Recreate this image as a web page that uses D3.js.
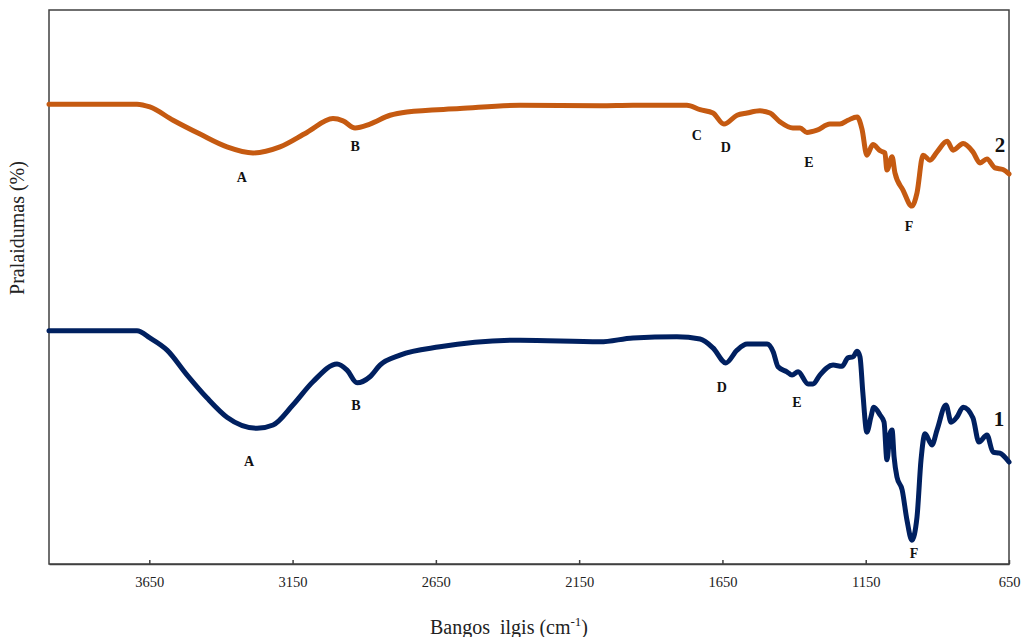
<!DOCTYPE html>
<html>
<head>
<meta charset="utf-8">
<script src="https://cdn.jsdelivr.net/npm/d3@7"></script>
<style>
  html, body { margin: 0; padding: 0; background: #fff; }
  svg { display: block; }
  svg text { font-family: "Liberation Serif", "DejaVu Serif", serif; }
</style>
</head>
<body>
<svg id="chart" width="1025" height="637"></svg>
<script>
// ---- Data ----
const xTicks = [3650, 3150, 2650, 2150, 1650, 1150, 650];

// Series 2 (orange): wavenumber, transmittance
const wave2 = [4000, 3850, 3693, 3648, 3567, 3473, 3379, 3288, 3194, 3100, 3009, 2974, 2932, 2880, 2810, 2751, 2566, 2356, 2077, 1962, 1774, 1728, 1683, 1645, 1599, 1564, 1519, 1484, 1449, 1404, 1379, 1355, 1320, 1275, 1240, 1212, 1180, 1163, 1146, 1125, 1100, 1083, 1076, 1058, 1048, 1020, 989, 971, 950, 926, 901, 866, 845, 810, 776, 751, 727, 699, 671, 650];
const trans2 = [83.0, 83.0, 83.0, 82.5, 80.1, 77.6, 75.3, 74.2, 75.3, 77.9, 80.4, 80.0, 78.7, 79.4, 81.0, 81.6, 82.2, 82.8, 82.7, 82.8, 82.8, 82.0, 81.4, 79.4, 81.0, 81.4, 81.8, 81.4, 79.8, 78.7, 78.7, 77.9, 78.3, 79.4, 79.4, 80.1, 80.7, 78.5, 73.8, 75.7, 74.6, 74.2, 71.1, 73.5, 70.6, 67.5, 64.6, 67.0, 73.8, 72.9, 74.4, 76.3, 74.7, 75.9, 74.4, 72.4, 73.1, 71.5, 71.2, 70.4];

// Series 1 (navy)
const wave1 = [4000, 3693, 3648, 3588, 3518, 3449, 3379, 3274, 3218, 3149, 3079, 2995, 2960, 2925, 2880, 2845, 2775, 2636, 2356, 2077, 1962, 1809, 1728, 1683, 1638, 1599, 1564, 1494, 1473, 1456, 1425, 1407, 1386, 1351, 1334, 1310, 1264, 1233, 1212, 1194, 1180, 1170, 1160, 1146, 1132, 1122, 1100, 1086, 1076, 1065, 1058, 1051, 1041, 1023, 1006, 989, 971, 957, 943, 919, 901, 870, 852, 832, 810, 776, 755, 727, 706, 682, 650];
const trans1 = [42.1, 42.1, 40.8, 38.6, 34.1, 30.0, 26.5, 24.5, 25.1, 28.7, 32.9, 36.1, 35.0, 32.7, 33.8, 35.9, 37.7, 39.2, 40.4, 40.1, 40.8, 41.0, 40.6, 39.0, 36.3, 38.6, 39.7, 39.7, 38.3, 35.6, 34.7, 34.1, 34.7, 32.5, 32.5, 34.1, 35.9, 35.7, 37.2, 37.4, 38.4, 37.4, 30.9, 23.8, 26.5, 28.3, 26.9, 25.6, 18.8, 23.6, 24.2, 19.3, 15.7, 13.4, 7.9, 4.3, 8.5, 18.8, 23.5, 21.5, 24.2, 28.7, 25.6, 26.5, 28.3, 26.4, 22.0, 23.3, 20.2, 20.0, 18.4];

// Peak annotations: text, wavenumber, transmittance (baseline)
const labelText2 = ["A", "B", "C", "D", "E", "F"];
const labelWave2 = [3327, 2932, 1739, 1638, 1348, 999];
const labelVal2  = [68.9, 74.6, 76.5, 74.4, 71.7, 60.1];
const labelText1 = ["A", "B", "D", "E", "F"];
const labelWave1 = [3302, 2929, 1652, 1390, 981];
const labelVal1  = [17.7, 27.8, 31.1, 28.3, 1.1];
const seriesNames = ["1", "2"];
const seriesNameWave = [685, 681];
const seriesNameVal = [24.9, 74.4];

// ---- Layout ----
const svg = d3.select("#chart");
const mLeft = 49, mRight = 1009, mTop = 10, mBottom = 564;
const x = d3.scaleLinear().domain([4000, 650]).range([mLeft, mRight]);
const y = d3.scaleLinear().domain([0, 100]).range([mBottom, mTop]);

// frame
svg.append("rect")
  .attr("x", mLeft).attr("y", mTop)
  .attr("width", mRight - mLeft).attr("height", mBottom - mTop)
  .attr("fill", "none").attr("stroke", "#404040").attr("stroke-width", 1.5);

// x axis with inward ticks
const xAxis = d3.axisBottom(x).tickValues(xTicks).tickFormat(d3.format("d"))
  .tickSizeInner(-4).tickSizeOuter(0).tickPadding(13);
const gx = svg.append("g").attr("transform", `translate(0,${mBottom})`).call(xAxis);
gx.attr("font-family", null);
gx.select(".domain").attr("stroke", "#404040").attr("stroke-width", 1.5);
gx.selectAll(".tick line").attr("stroke", "#404040").attr("stroke-width", 1.5);
gx.selectAll(".tick text").attr("font-size", 14.5).attr("fill", "#222").attr("dy", "0.71em");

// curves (points sorted by wavenumber for a monotone curve)
const line = d3.line().x(d => x(d[0])).y(d => y(d[1])).curve(d3.curveMonotoneX);
const s2 = wave2.map((w, i) => [w, trans2[i]]).sort((a, b) => a[0] - b[0]);
const s1 = wave1.map((w, i) => [w, trans1[i]]).sort((a, b) => a[0] - b[0]);
svg.append("path").datum(s2).attr("d", line)
  .attr("fill", "none").attr("stroke", "#C55A11").attr("stroke-width", 5).attr("stroke-linejoin", "round").attr("stroke-linecap", "round");
svg.append("path").datum(s1).attr("d", line)
  .attr("fill", "none").attr("stroke", "#002060").attr("stroke-width", 5).attr("stroke-linejoin", "round").attr("stroke-linecap", "round");

// peak labels
function addLabels(texts, waves, vals) {
  svg.append("g").selectAll("text").data(texts).join("text")
    .attr("x", (d, i) => x(waves[i])).attr("y", (d, i) => y(vals[i]))
    .attr("text-anchor", "middle")
    .attr("font-weight", "bold").attr("font-size", 14).attr("fill", "#111")
    .text(d => d);
}
addLabels(labelText2, labelWave2, labelVal2);
addLabels(labelText1, labelWave1, labelVal1);

svg.append("g").selectAll("text").data(seriesNames).join("text")
  .attr("x", (d, i) => x(seriesNameWave[i])).attr("y", (d, i) => y(seriesNameVal[i]))
  .attr("text-anchor", "middle")
  .attr("font-weight", "bold").attr("font-size", 21).attr("fill", "#111")
  .text(d => d);

// axis titles
const xt = svg.append("text").attr("x", 509).attr("y", 634).attr("text-anchor", "middle")
  .attr("font-size", 20).attr("fill", "#222")
  .style("white-space", "pre");
xt.append("tspan").text("Bangos  ilgis (cm");
xt.append("tspan").attr("font-size", 13).attr("dy", -8).text("-1");
xt.append("tspan").attr("dy", 8).text(")");

svg.append("text").attr("transform", "translate(24,228) rotate(-90)").attr("text-anchor", "middle")
  .attr("font-size", 20).attr("fill", "#222")
  .text("Pralaidumas (%)");
</script>
</body>
</html>
